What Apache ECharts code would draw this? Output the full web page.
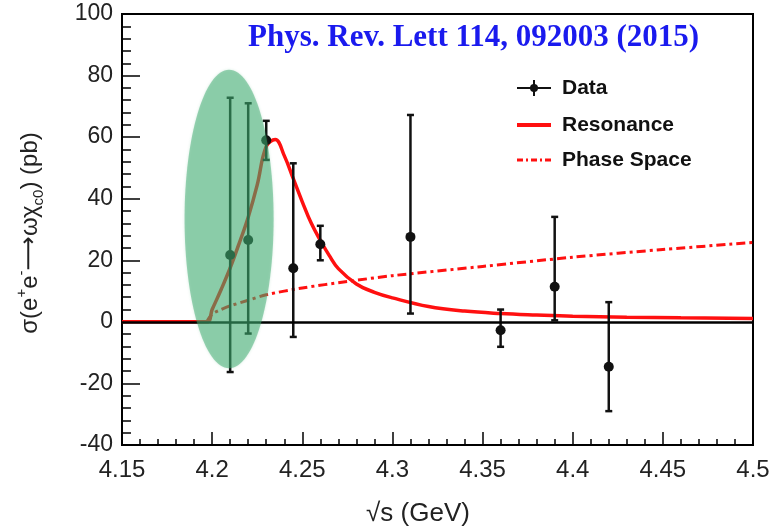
<!DOCTYPE html>
<html>
<head>
<meta charset="utf-8">
<script src="https://cdn.jsdelivr.net/npm/echarts@6/dist/echarts.min.js"></script>
<style>
  html, body { margin: 0; padding: 0; background: #fff; }
  #chart { width: 775px; height: 532px; }
</style>
</head>
<body>
<div id="chart"></div>
<script>
// Measured cross sections sigma(e+e- -> omega chi_c0), in pb
const energies = [4.21, 4.22, 4.23, 4.245, 4.26, 4.31, 4.36, 4.39, 4.42];
const xsec     = [21.7, 26.6, 59.0, 17.4, 25.2, 27.6, -2.7, 11.4, -14.6];
const errLow   = [-16.3, -3.8, 52.6, -4.9, 20.0, 2.7, -8.1, 0.5, -29.0];
const errHigh  = [72.8, 71.0, 65.3, 51.5, 31.2, 67.2, 4.0, 34.1, 6.4];

// Fitted resonance line shape
const resX = [4.15, 4.197, 4.2, 4.205, 4.21, 4.215, 4.22, 4.225, 4.23, 4.235, 4.24, 4.245, 4.25,
              4.255, 4.26, 4.265, 4.27, 4.28, 4.29, 4.30, 4.32, 4.34, 4.36, 4.38, 4.40, 4.43, 4.46, 4.5];
const resY = [0, 0, 4, 10.5, 17.5, 25.5, 34, 44.5, 57, 59.2, 54, 46.5, 39,
              32, 26.5, 21.5, 17.3, 12.3, 9.6, 7.8, 5, 3.5, 2.7, 2.2, 1.8, 1.5, 1.3, 1.1];

// Phase-space shape
const phsX = [4.197, 4.2, 4.205, 4.21, 4.22, 4.23, 4.25, 4.275, 4.3, 4.35, 4.4, 4.45, 4.5];
const phsY = [0, 2.5, 4, 5.2, 7, 8.8, 11, 13.1, 15, 18, 21, 23.5, 25.8];

// Highlighted region around the low-energy points: [centre x, centre y, half-width, half-height]
const highlightRegion = [4.2094, 33.4, 0.0247, 48.5];

const xTicks = { min: 4.15, max: 4.5, step: 0.05 };
const yTicks = { min: -40, max: 100, step: 20 };

const titleText = 'Phys. Rev. Lett 114, 092003 (2015)';
const legendNames = ['Data', 'Resonance', 'Phase Space'];

const SANS = '"Liberation Sans", Arial, Helvetica, sans-serif';
const RED = '#ff1010';

const chart = echarts.init(document.getElementById('chart'), null, { renderer: 'canvas' });

const pts = energies.map((e, i) => [e, xsec[i], errLow[i], errHigh[i]]);
const zip = (xs, ys) => xs.map((x, i) => [x, ys[i]]);

const option = {
  animation: false,
  backgroundColor: '#fff',
  grid: {
    left: 122, right: 22, top: 14, bottom: 87,
    show: true, borderColor: '#000', borderWidth: 2, backgroundColor: 'transparent'
  },
  xAxis: {
    type: 'value',
    min: xTicks.min, max: xTicks.max, interval: xTicks.step,
    axisLine: { show: true, onZero: false, lineStyle: { color: '#000', width: 2 } },
    axisTick: { show: true, inside: true, length: 13, lineStyle: { color: '#000', width: 1.5 } },
    minorTick: { show: true, splitNumber: 5, length: 6, lineStyle: { color: '#000', width: 1.5 } },
    splitLine: { show: false },
    axisLabel: {
      margin: 13, fontSize: 24, color: '#222', fontFamily: SANS,
      formatter: v => String(parseFloat(v.toFixed(2)))
    }
  },
  yAxis: {
    type: 'value',
    min: yTicks.min, max: yTicks.max, interval: yTicks.step,
    axisLine: { show: true, onZero: false, lineStyle: { color: '#000', width: 2 } },
    axisTick: { show: true, inside: true, length: 18, lineStyle: { color: '#000', width: 1.5 } },
    minorTick: { show: true, splitNumber: 5, length: 9, lineStyle: { color: '#000', width: 1.5 } },
    splitLine: { show: false },
    axisLabel: { margin: 9, fontSize: 23, color: '#222', fontFamily: SANS }
  },
  series: [
    {
      name: 'Phase Space',
      type: 'line',
      data: zip(phsX, phsY),
      showSymbol: false,
      smooth: 0.3,
      lineStyle: { color: RED, width: 3, type: [9, 4, 3, 4] },
      z: 2
    },
    {
      name: 'Resonance',
      type: 'line',
      data: zip(resX, resY),
      showSymbol: false,
      smooth: 0.4,
      lineStyle: { color: RED, width: 3.5 },
      z: 3,
      markLine: {
        silent: true,
        symbol: 'none',
        label: { show: false },
        lineStyle: { color: '#000', width: 2.5, type: 'solid' },
        data: [{ yAxis: 0 }]
      }
    },
    {
      name: 'Data',
      type: 'custom',
      data: pts,
      z: 4,
      renderItem: (params, api) => {
        const x = api.value(0);
        const c = api.coord([x, api.value(1)]);
        const lo = api.coord([x, api.value(2)]);
        const hi = api.coord([x, api.value(3)]);
        const cap = 3.5;
        const ls = { stroke: '#111', lineWidth: 2.5 };
        return {
          type: 'group',
          children: [
            { type: 'line', shape: { x1: lo[0], y1: lo[1], x2: hi[0], y2: hi[1] }, style: ls },
            { type: 'line', shape: { x1: lo[0] - cap, y1: lo[1], x2: lo[0] + cap, y2: lo[1] }, style: ls },
            { type: 'line', shape: { x1: hi[0] - cap, y1: hi[1], x2: hi[0] + cap, y2: hi[1] }, style: ls },
            { type: 'circle', shape: { cx: c[0], cy: c[1], r: 5 }, style: { fill: '#111' } }
          ]
        };
      }
    },
    {
      name: 'highlight',
      type: 'custom',
      data: [highlightRegion],
      z: 10,
      renderItem: (params, api) => {
        const c = api.coord([api.value(0), api.value(1)]);
        const s = api.size([api.value(2), api.value(3)]);
        return {
          type: 'ellipse',
          shape: { cx: c[0], cy: c[1], rx: s[0], ry: s[1] },
          style: { fill: 'rgba(60,170,110,0.5)', shadowBlur: 3, shadowColor: 'rgba(60,170,110,0.4)' }
        };
      }
    }
  ],
  graphic: [
    {
      type: 'text', x: 248, y: 38, z: 20,
      style: {
        text: titleText, fill: '#1a1aee', verticalAlign: 'middle',
        font: 'bold 31px "Liberation Serif", "Times New Roman", serif'
      }
    },
    // legend: Data
    { type: 'line', z: 20, shape: { x1: 517, y1: 88, x2: 551, y2: 88 }, style: { stroke: '#111', lineWidth: 2 } },
    { type: 'line', z: 20, shape: { x1: 534, y1: 80, x2: 534, y2: 96 }, style: { stroke: '#111', lineWidth: 2 } },
    { type: 'circle', z: 20, shape: { cx: 534, cy: 88, r: 4 }, style: { fill: '#111' } },
    { type: 'text', z: 20, x: 562, y: 88, style: { text: legendNames[0], fill: '#111', font: 'bold 21px ' + SANS, verticalAlign: 'middle' } },
    // legend: Resonance
    { type: 'line', z: 20, shape: { x1: 517, y1: 125, x2: 551, y2: 125 }, style: { stroke: RED, lineWidth: 4 } },
    { type: 'text', z: 20, x: 562, y: 125, style: { text: legendNames[1], fill: '#111', font: 'bold 21px ' + SANS, verticalAlign: 'middle' } },
    // legend: Phase Space
    { type: 'line', z: 20, shape: { x1: 517, y1: 160, x2: 551, y2: 160 }, style: { stroke: RED, lineWidth: 3, lineDash: [6, 3, 2, 3] } },
    { type: 'text', z: 20, x: 562, y: 160, style: { text: legendNames[2], fill: '#111', font: 'bold 21px ' + SANS, verticalAlign: 'middle' } },
    // axis titles
    {
      type: 'text', z: 20, x: 418, y: 514,
      style: { text: '√s (GeV)', fill: '#222', font: '26px ' + SANS, align: 'center', verticalAlign: 'middle' }
    },
    {
      type: 'text', z: 20, x: 30, y: 233, rotation: Math.PI / 2,
      style: {
        text: 'σ(e{sup|+}e{sup|-}{arr|⟶}ωχ{sub|c0}) (pb)',
        fill: '#222', font: '24px ' + SANS, align: 'center', verticalAlign: 'middle',
        rich: {
          sup: { fontSize: 15, fontFamily: SANS, fill: '#222', verticalAlign: 'top', lineHeight: 32 },
          sub: { fontSize: 15, fontFamily: SANS, fill: '#222', verticalAlign: 'bottom', lineHeight: 32 },
          arr: { fontSize: 24, fontFamily: '"DejaVu Sans", sans-serif', fill: '#222' }
        }
      }
    }
  ]
};

chart.setOption(option);
</script>
</body>
</html>
